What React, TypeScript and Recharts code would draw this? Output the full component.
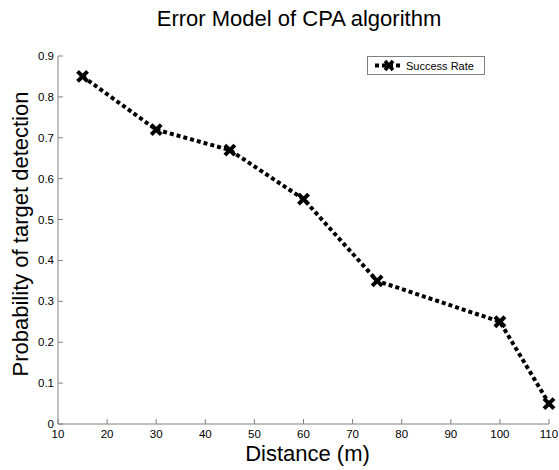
import React from "react";
import { LineChart, Line, XAxis, YAxis, Legend } from "recharts";

const distances = [15, 30, 45, 60, 75, 100, 110];
const successRate = [0.85, 0.72, 0.67, 0.55, 0.35, 0.25, 0.05];
const xTicks = [10, 20, 30, 40, 50, 60, 70, 80, 90, 100, 110];
const yTicks = [0, 0.1, 0.2, 0.3, 0.4, 0.5, 0.6, 0.7, 0.8, 0.9];
const seriesName = "Success Rate";
const title = "Error Model of CPA algorithm";
const xLabel = "Distance (m)";
const yLabel = "Probability of target detection";

const data = distances.map((d, i) => ({ d, v: successRate[i] }));

const FONT = "'Liberation Sans', Arial, Helvetica, sans-serif";
const AXIS = "#808080";

const XTick = (props: any) => {
  const { x, y, payload } = props;
  return (
    <g>
      <line x1={x} y1={y} x2={x} y2={y - 5} stroke={AXIS} strokeWidth={1} />
      <text x={x} y={y + 14} textAnchor="middle" fontSize={11.5} fontFamily={FONT} fill="#000">
        {payload.value}
      </text>
    </g>
  );
};

const YTick = (props: any) => {
  const { x, y, payload } = props;
  return (
    <g>
      <line x1={x} y1={y} x2={x + 5} y2={y} stroke={AXIS} strokeWidth={1} />
      <text x={x - 4} y={y + 4} textAnchor="end" fontSize={11.5} fontFamily={FONT} fill="#000">
        {payload.value}
      </text>
    </g>
  );
};

const XMarker = (props: any) => {
  const { cx, cy } = props;
  if (cx == null || cy == null) return null;
  const s = 5;
  return (
    <g>
      <line x1={cx - s} y1={cy - s} x2={cx + s} y2={cy + s} stroke="#000" strokeWidth={4} />
      <line x1={cx - s} y1={cy + s} x2={cx + s} y2={cy - s} stroke="#000" strokeWidth={4} />
    </g>
  );
};

const LegendBox = () => (
  <div
    style={{
      width: 116,
      height: 17,
      border: "1px solid #808080",
      background: "#fff",
      display: "flex",
      alignItems: "center",
      fontFamily: FONT,
      fontSize: 11,
      color: "#000",
      boxSizing: "content-box",
    }}
  >
    <svg width={38} height={17}>
      <line x1={7} y1={8.5} x2={35} y2={8.5} stroke="#000" strokeWidth={4} strokeDasharray="4 3" />
      <line x1={17} y1={4} x2={25} y2={13} stroke="#000" strokeWidth={3.5} />
      <line x1={17} y1={13} x2={25} y2={4} stroke="#000" strokeWidth={3.5} />
    </svg>
    <span>{seriesName}</span>
  </div>
);

export default function App() {
  return (
    <div style={{ position: "absolute", left: 0, top: 0, width: 559, height: 470, background: "#fff" }}>
      <div
        style={{
          position: "absolute",
          left: 0,
          top: 6,
          width: 598,
          textAlign: "center",
          fontFamily: FONT,
          fontSize: 22,
          color: "#000",
          lineHeight: "26px",
          zIndex: 2,
          pointerEvents: "none",
        }}
      >
        {title}
      </div>
      <LineChart
        width={559}
        height={470}
        data={data}
        margin={{ top: 37, right: 10, left: 0, bottom: 0 }}
      >
        <XAxis
          dataKey="d"
          type="number"
          domain={[10, 110]}
          ticks={xTicks}
          interval={0}
          height={46}
          tickSize={0}
          tickMargin={0}
          tickLine={false}
          stroke={AXIS}
          tick={<XTick />}
          label={{
            content: (p: any) => {
              const vb = p.viewBox;
              return (
                <text
                  x={vb.x + vb.width / 2 + 4}
                  y={vb.y + 37}
                  textAnchor="middle"
                  fontSize={22}
                  fontFamily={FONT}
                  fill="#000"
                >
                  {xLabel}
                </text>
              );
            },
          }}
        />
        <YAxis
          type="number"
          domain={[0, 0.9]}
          ticks={yTicks}
          interval={0}
          width={58}
          tickSize={0}
          tickMargin={0}
          tickLine={false}
          stroke={AXIS}
          tick={<YTick />}
          label={{
            content: (p: any) => {
              const vb = p.viewBox;
              const cx = 28;
              const cy = vb.y + vb.height / 2 - 6;
              return (
                <text
                  x={cx}
                  y={cy}
                  transform={`rotate(-90 ${cx} ${cy})`}
                  textAnchor="middle"
                  fontSize={22}
                  fontFamily={FONT}
                  fill="#000"
                >
                  {yLabel}
                </text>
              );
            },
          }}
        />
        <Legend
          verticalAlign="top"
          content={<LegendBox />}
          wrapperStyle={{ position: "absolute", left: 367, top: 56, width: 118, height: 19 }}
        />
        <Line
          dataKey="v"
          name={seriesName}
          stroke="#000"
          strokeWidth={4}
          strokeDasharray="4 3"
          dot={<XMarker />}
          activeDot={false}
          isAnimationActive={false}
          type="linear"
        />
      </LineChart>
    </div>
  );
}
